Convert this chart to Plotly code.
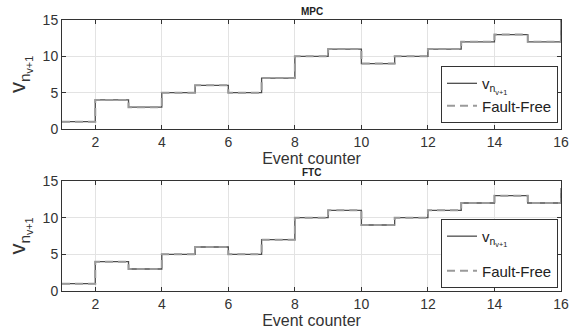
import plotly.graph_objects as go

event = list(range(1, 17))
mpc_v = [1, 4, 3, 5, 6, 5, 7, 10, 11, 9, 10, 11, 12, 13, 12, 15]
mpc_ff = [1, 4, 3, 5, 6, 5, 7, 10, 11, 9, 10, 11, 12, 13, 12, 15]
ftc_v = [1, 4, 3, 5, 6, 5, 7, 10, 11, 9, 10, 11, 12, 13, 12, 14]
ftc_ff = [1, 4, 3, 5, 6, 5, 7, 10, 11, 9, 10, 11, 12, 13, 12, 14]
titles = ["MPC", "FTC"]
xticks = [2, 4, 6, 8, 10, 12, 14, 16]
yticks = [0, 5, 10, 15]
vlabel = "v<sub>n<sub>v+1</sub></sub>"

FONT = "Liberation Sans, Arial, Helvetica, sans-serif"
fig = go.Figure()

fig.add_trace(go.Scatter(x=event, y=mpc_v, mode="lines", line_shape="hv",
                         line=dict(color="#4d4d4d", width=1.3), name=vlabel,
                         legendgroup="a", xaxis="x", yaxis="y", legend="legend"))
fig.add_trace(go.Scatter(x=event, y=mpc_ff, mode="lines", line_shape="hv",
                         line=dict(color="#9a9a9a", width=2, dash="8px,5px"), name="Fault-Free",
                         legendgroup="b", xaxis="x", yaxis="y", legend="legend"))
fig.add_trace(go.Scatter(x=event, y=ftc_v, mode="lines", line_shape="hv",
                         line=dict(color="#4d4d4d", width=1.3), name=vlabel,
                         legendgroup="c", xaxis="x2", yaxis="y2", legend="legend2"))
fig.add_trace(go.Scatter(x=event, y=ftc_ff, mode="lines", line_shape="hv",
                         line=dict(color="#9a9a9a", width=2, dash="8px,5px"), name="Fault-Free",
                         legendgroup="d", xaxis="x2", yaxis="y2", legend="legend2"))

axis_common = dict(showline=True, mirror="ticks", linecolor="#333333", linewidth=1,
                   ticks="inside", ticklen=4, tickcolor="#333333", automargin=False,
                   ticklabeloverflow="allow",
                   showgrid=True, gridcolor="#e3e3e3", gridwidth=1, zeroline=False,
                   tickfont=dict(family=FONT, size=14, color="#333333"))

xtitle = dict(text="Event counter", standoff=0,
              font=dict(family=FONT, size=16, color="#333333"))
ytitle = dict(text=vlabel, standoff=10,
              font=dict(family=FONT, size=22, color="#333333"))

legend_common = dict(xanchor="right", yanchor="top", xref="paper", yref="paper",
                     bgcolor="white", bordercolor="#333333", borderwidth=1,
                     itemwidth=30,
                     font=dict(family=FONT, size=15, color="#222222"))

fig.update_layout(
    width=570, height=333,
    margin=dict(l=62, r=9, t=20, b=42),
    paper_bgcolor="white", plot_bgcolor="white",
    showlegend=True,
    xaxis=dict(domain=[0, 1], range=[1, 16], tickvals=xticks, anchor="y",
               title=xtitle, **axis_common),
    yaxis=dict(domain=[0.598, 1], range=[0, 15], tickvals=yticks, anchor="x",
               title=ytitle, **axis_common),
    xaxis2=dict(domain=[0, 1], range=[1, 16], tickvals=xticks, anchor="y2",
                title=xtitle, **axis_common),
    yaxis2=dict(domain=[0, 0.406], range=[0, 15], tickvals=yticks, anchor="x2",
                title=ytitle, **axis_common),
    legend=dict(x=0.994, y=0.830, tracegroupgap=0, **legend_common),
    legend2=dict(x=0.994, y=0.266, tracegroupgap=12, **legend_common),
    annotations=[
        dict(text="<b>%s</b>" % titles[0], x=0.5, y=1.0, xref="paper", yref="paper",
             xanchor="center", yanchor="bottom", showarrow=False, yshift=1,
             font=dict(family=FONT, size=10, color="#222222")),
        dict(text="<b>%s</b>" % titles[1], x=0.5, y=0.406, xref="paper", yref="paper",
             xanchor="center", yanchor="bottom", showarrow=False, yshift=1,
             font=dict(family=FONT, size=10, color="#222222")),
    ],
)

fig.write_html("out.html", config={"displayModeBar": False},
               post_script="document.body.style.margin='0';document.body.style.overflow='hidden';")
